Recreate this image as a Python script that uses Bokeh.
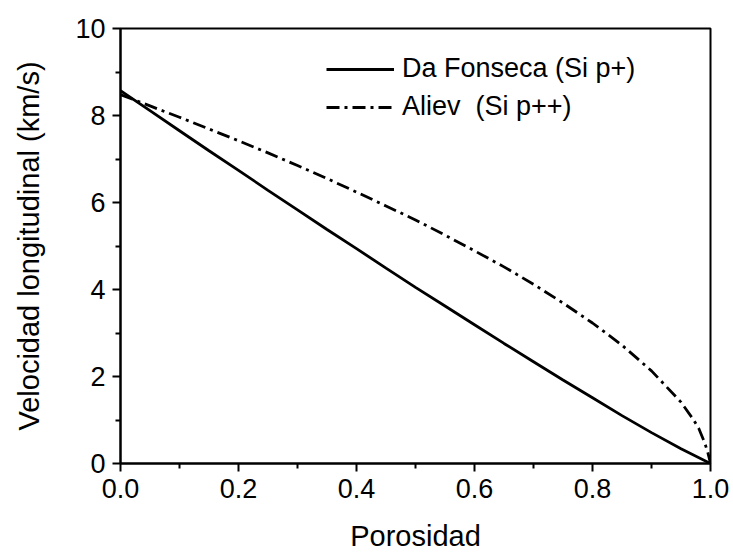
from bokeh.plotting import figure
from bokeh.models import Range1d, FixedTicker, Legend, LegendItem, CustomJSTickFormatter
from bokeh.embed import file_html
from bokeh.resources import INLINE

# Data
porosity_fonseca = [0.0, 0.05, 0.1, 0.15, 0.2, 0.25, 0.3, 0.35, 0.4, 0.45, 0.5,
                    0.55, 0.6, 0.65, 0.7, 0.75, 0.8, 0.85, 0.9, 0.95, 1.0]
velocity_fonseca = [8.57, 8.11, 7.65, 7.19, 6.74, 6.28, 5.83, 5.38, 4.94, 4.49, 4.05,
                    3.62, 3.19, 2.76, 2.34, 1.92, 1.51, 1.10, 0.71, 0.34, 0.0]

porosity_aliev = [0.0, 0.05, 0.1, 0.15, 0.2, 0.25, 0.3, 0.35, 0.4, 0.45, 0.5,
                  0.55, 0.6, 0.65, 0.7, 0.75, 0.8, 0.85, 0.9, 0.95, 0.97, 0.98,
                  0.99, 0.995, 1.0]
velocity_aliev = [8.48, 8.22, 7.96, 7.69, 7.42, 7.14, 6.85, 6.55, 6.24, 5.92, 5.60,
                  5.25, 4.89, 4.52, 4.12, 3.69, 3.23, 2.72, 2.13, 1.41, 1.03, 0.81,
                  0.48, 0.28, 0.0]

x_ticks = [0.0, 0.2, 0.4, 0.6, 0.8, 1.0]
x_minor = [0.1, 0.3, 0.5, 0.7, 0.9]
y_ticks = [0, 2, 4, 6, 8, 10]
y_minor = [1, 3, 5, 7, 9]

label_fonseca = "Da Fonseca (Si p+)"
label_aliev = "Aliev  (Si p++)"
x_title = "Porosidad"
y_title = "Velocidad longitudinal (km/s)"

FONT = "Liberation Sans"

p = figure(width=733, height=554, output_backend="svg", toolbar_location=None,
           x_range=Range1d(0, 1), y_range=Range1d(0, 10),
           min_border_left=120, min_border_right=23, min_border_top=28,
           min_border_bottom=91)
p.background_fill_color = "white"
p.border_fill_color = "white"
p.grid.visible = False
p.outline_line_color = "black"
p.outline_line_width = 2

r1 = p.line(porosity_fonseca, velocity_fonseca, line_color="black", line_width=2.8)
r2 = p.line(porosity_aliev, velocity_aliev, line_color="black", line_width=2.8,
            line_dash="13 5 3 5")

p.xaxis.ticker = FixedTicker(ticks=x_ticks, minor_ticks=x_minor)
p.yaxis.ticker = FixedTicker(ticks=y_ticks, minor_ticks=y_minor)
p.xaxis.formatter = CustomJSTickFormatter(code="return tick.toFixed(1);")
p.yaxis.formatter = CustomJSTickFormatter(code="return tick.toFixed(0);")

for ax in (p.xaxis[0], p.yaxis[0]):
    ax.axis_line_color = "black"
    ax.axis_line_width = 2
    ax.major_tick_line_color = "black"
    ax.major_tick_line_width = 2
    ax.minor_tick_line_color = "black"
    ax.minor_tick_line_width = 2
    ax.major_tick_out = 8
    ax.major_tick_in = 0
    ax.minor_tick_out = 5
    ax.minor_tick_in = 0
    ax.major_label_text_font = FONT
    ax.major_label_text_font_size = "27px"
    ax.major_label_text_color = "black"
    ax.axis_label_text_font = FONT
    ax.axis_label_text_font_size = "29px"
    ax.axis_label_text_font_style = "normal"
    ax.axis_label_text_color = "black"

p.xaxis.axis_label = x_title
p.yaxis.axis_label = y_title
p.xaxis.major_label_standoff = 7
p.yaxis.major_label_standoff = 7
p.xaxis.axis_label_standoff = 19
p.yaxis.axis_label_standoff = 27

legend = Legend(items=[LegendItem(label=label_fonseca, renderers=[r1]),
                       LegendItem(label=label_aliev, renderers=[r2])],
                location=(206, 341))
legend.border_line_color = None
legend.background_fill_alpha = 0
legend.padding = 0
legend.margin = 0
legend.spacing = 7
legend.glyph_width = 68
legend.glyph_height = 30
legend.label_height = 30
legend.label_standoff = 8
legend.label_text_font = FONT
legend.label_text_font_size = "27px"
legend.label_text_color = "black"
p.add_layout(legend)

open("out.html", "w").write(file_html(p, INLINE))
